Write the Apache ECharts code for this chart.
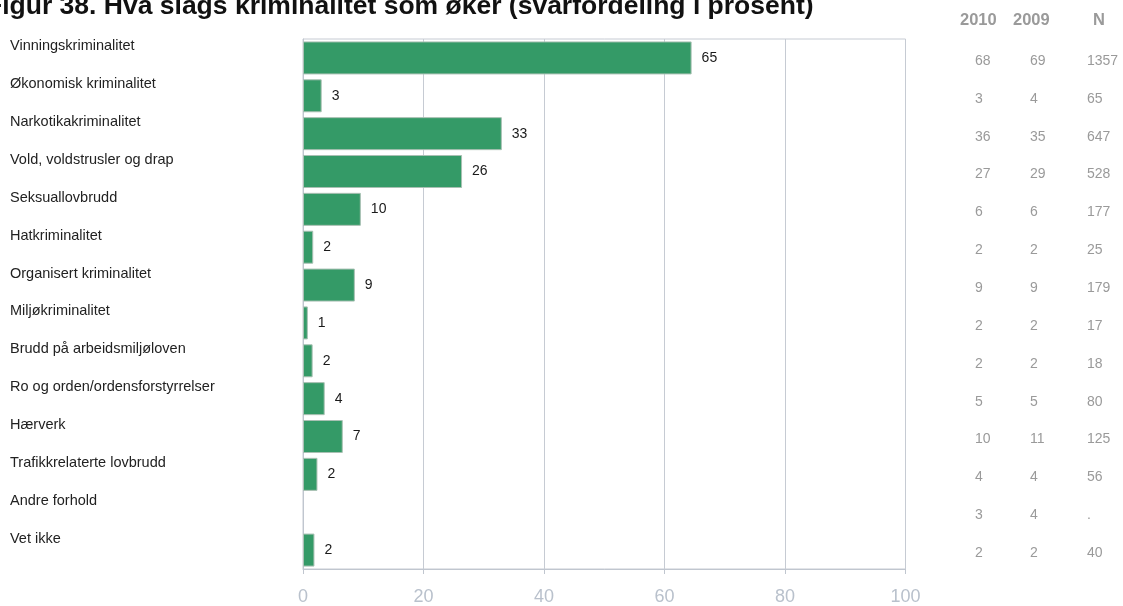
<!DOCTYPE html>
<html>
<head>
<meta charset="utf-8">
<script src="https://cdn.jsdelivr.net/npm/echarts@6/dist/echarts.min.js"></script>
<style>html,body{margin:0;padding:0;background:#fff;}#c{width:1123px;height:606px;}</style>
</head>
<body>
<div id="c"></div>
<script>
const categories = ['Vinningskriminalitet','Økonomisk kriminalitet','Narkotikakriminalitet','Vold, voldstrusler og drap','Seksuallovbrudd','Hatkriminalitet','Organisert kriminalitet','Miljøkriminalitet','Brudd på arbeidsmiljøloven','Ro og orden/ordensforstyrrelser','Hærverk','Trafikkrelaterte lovbrudd','Andre forhold','Vet ikke'];
const shares = [64.5, 3.1, 33.0, 26.4, 9.6, 1.7, 8.6, 0.8, 1.6, 3.6, 6.6, 2.4, null, 1.9];
const col2010 = ['68','3','36','27','6','2','9','2','2','5','10','4','3','2'];
const col2009 = ['69','4','35','29','6','2','9','2','2','5','11','4','4','2'];
const colN = ['1357','65','647','528','177','25','179','17','18','80','125','56','.','40'];
const xTicks = [0, 20, 40, 60, 80, 100];
const headers = ['2010', '2009', 'N'];

const FONT = 'Liberation Sans, Arial, sans-serif';
const chart = echarts.init(document.getElementById('c'));

function tableAxis(values, header, offset, margin) {
  return {
    type: 'category', data: categories, inverse: true, position: 'right', offset: offset,
    axisLine: {show: false}, axisTick: {show: false}, splitLine: {show: false},
    axisLabel: {
      margin: margin, align: 'left',
      formatter: function (v, i) { return '{v|' + values[i] + '}'; },
      rich: {v: {color: '#9a9a9a', fontSize: 14, fontFamily: FONT, padding: [6, 0, 0, 0]}}
    },
    name: header, nameLocation: 'start', nameGap: 19,
    nameTextStyle: {color: '#9a9a9a', fontSize: 16.5, fontWeight: 'bold', fontFamily: FONT, align: 'left', verticalAlign: 'middle'}
  };
}

chart.setOption({
  animation: false,
  title: {
    text: 'Figur 38. Hva slags kriminalitet som øker (svarfordeling i prosent)',
    left: -19, top: -12,
    textStyle: {color: '#111', fontSize: 26.5, fontWeight: 'bold', fontFamily: FONT}
  },
  grid: {left: 303, right: 217.5, top: 39, bottom: 36, show: true, borderColor: '#c6cbd3', borderWidth: 1},
  xAxis: {
    type: 'value', min: xTicks[0], max: xTicks[xTicks.length - 1], interval: 20,
    axisLine: {show: true, lineStyle: {color: '#c0c6cf'}},
    axisTick: {show: true, length: 5, lineStyle: {color: '#c0c6cf'}},
    splitLine: {show: true, lineStyle: {color: '#c6cbd3'}},
    axisLabel: {color: '#b9c1cc', fontSize: 18, fontFamily: FONT, margin: 19}
  },
  yAxis: [{
    type: 'category', data: categories, inverse: true,
    axisLine: {show: true, lineStyle: {color: '#c0c6cf'}},
    axisTick: {show: false},
    axisLabel: {
      margin: 293, align: 'left',
      formatter: function (v) { return '{c|' + v + '}'; },
      rich: {c: {color: '#222', fontSize: 14.5, fontFamily: FONT, padding: [0, 0, 23, 0]}}
    }
  },
    tableAxis(col2010, headers[0], 54.5, 15),
    tableAxis(col2009, headers[1], 107.5, 17),
    tableAxis(colN, headers[2], 187.5, -6)
  ],
  series: [{
    type: 'bar', data: shares, yAxisIndex: 0, barWidth: 33,
    itemStyle: {color: '#349a67', borderColor: '#a9c0b3', borderWidth: 1},
    label: {
      show: true, position: 'right', distance: 10, color: '#1a1a1a', fontSize: 14, fontFamily: FONT,
      formatter: function (p) { return p.value == null ? '' : Math.round(p.value); }
    }
  }]
});
</script>
</body>
</html>
